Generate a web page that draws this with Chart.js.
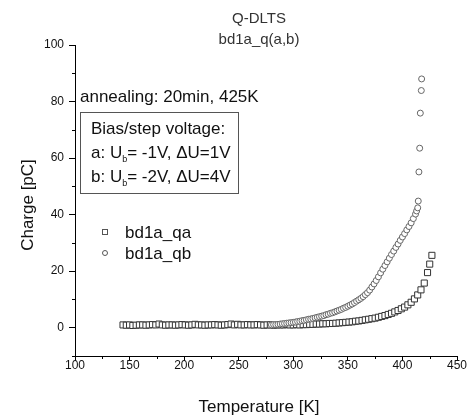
<!DOCTYPE html>
<html lang="en">
<head>
<meta charset="UTF-8">
<title>Q-DLTS bd1a_q(a,b)</title>
<script src="https://cdn.jsdelivr.net/npm/chart.js"></script>
<style>
  body { margin: 0; background: #fff; font-family: "Liberation Sans", Arial, sans-serif; }
  #wrap { position: relative; width: 470px; height: 419px; overflow: hidden; }
  #chart { position: absolute; left: 0; top: 0; }
  .lbl { position: absolute; white-space: nowrap; line-height: 1; color: #111; }
  .ctr { transform: translate(-50%, -50%); }
  .vmid { transform: translateY(-50%); }
  .box { position: absolute; left: 80px; top: 112px; width: 157px; height: 80px; border: 1px solid #555; }
  sub { font-size: 9px; vertical-align: -4px; line-height: 0; }
  .mk { position: absolute; width: 4px; height: 4px; border: 1px solid #555; background: #fff; transform: translate(-50%, -50%); }
</style>
</head>
<body>
<div id="wrap">
    <canvas id="chart" width="470" height="419"></canvas>

    <!-- titles -->
    <div class="lbl ctr" style="left:259px; top:17px; font-size:15px; color:#333;">Q-DLTS</div>
    <div class="lbl ctr" style="left:259px; top:38px; font-size:15px; color:#333;">bd1a_q(a,b)</div>

    <!-- annotations -->
    <div class="lbl vmid" style="left:80px; top:96px; font-size:17px;">annealing: 20min, 425K</div>
    <div class="box"></div>
    <div class="lbl vmid" style="left:91px; top:128px; font-size:17px;">Bias/step voltage:</div>
    <div class="lbl vmid" style="left:91px; top:152px; font-size:17px;">a: U<sub>b</sub>= -1V, ΔU=1V</div>
    <div class="lbl vmid" style="left:91px; top:176px; font-size:17px;">b: U<sub>b</sub>= -2V, ΔU=4V</div>

    <!-- legend -->
    <div class="mk" style="left:105px; top:232px;"></div>
    <div class="lbl vmid" style="left:125px; top:232px; font-size:17px;">bd1a_qa</div>
    <div class="mk" style="left:105px; top:253px; border-radius:50%;"></div>
    <div class="lbl vmid" style="left:125px; top:253px; font-size:17px;">bd1a_qb</div>

    <!-- axis titles -->
    <div class="lbl" style="left:27px; top:205px; font-size:17px; transform: translate(-50%, -50%) rotate(-90deg);">Charge [pC]</div>
    <div class="lbl ctr" style="left:259px; top:406px; font-size:17px;">Temperature [K]</div>
</div>

<script>
// bd1a_qa (squares)
const tempA = [144,147,150,153,156,159,162,165,168,171,174,177,180,183,186,189,192,195,198,201,
    204,207,210,213,216,219,222,225,228,231,234,237,240,243,246,249,252,255,258,261,
    264,267,270,273,276,279,282,285,288,291,294,297,300,303,306,309,312,315,318,321,
    324,327,330,333,336,339,342,345,348,351,354,357,360,363,366,369,372,375,378,381,
    384,387,390,393,396,399,402,405,408,411,414,417,420,423,425,427];
const chargeA = [1.0,0.9,1.0,0.8,0.9,1.0,1.0,0.9,1.0,1.1,1.0,1.3,1.0,0.9,1.0,1.0,0.9,1.0,1.1,1.0,
    0.9,1.0,1.2,1.0,1.0,0.9,1.0,1.0,1.1,1.0,0.9,1.0,1.1,1.3,1.0,1.2,1.0,1.0,1.1,1.0,
    1.0,1.1,1.0,0.9,1.0,1.0,0.9,1.0,1.0,1.0,1.1,1.0,1.0,1.1,1.0,1.1,1.1,1.2,1.2,1.3,
    1.3,1.4,1.4,1.5,1.5,1.6,1.7,1.8,1.9,2.0,2.1,2.3,2.4,2.6,2.8,3.0,3.2,3.4,3.7,4.0,
    4.3,4.7,5.1,5.6,6.1,6.7,7.3,8.1,9.0,10.2,11.6,13.4,15.8,19.5,22.5,25.6];

// bd1a_qb (circles)
const tempB = [280,282,284,286,288,290,292,294,296,298,300,302,304,306,308,310,312,314,316,318,
    320,322,324,326,328,330,332,334,336,338,340,342,344,346,348,350,352,354,356,358,
    360,362,364,366,368,370,372,374,376,378,380,382,384,386,388,390,392,394,396,398,
    400,402,404,406,408,410,412,413,414,
    414.5,415.1,415.8,416.4,417.3,417.6];
const chargeB = [1.0,1.1,1.1,1.2,1.3,1.4,1.5,1.6,1.7,1.8,1.9,2.0,2.2,2.3,2.5,2.6,2.8,3.0,3.1,3.3,
    3.5,3.7,3.9,4.1,4.3,4.6,4.8,5.1,5.3,5.6,5.9,6.2,6.5,6.9,7.2,7.6,8.0,8.4,8.9,9.4,
    9.9,10.4,11.0,11.7,12.4,13.3,14.4,15.5,16.7,18.0,19.4,20.7,22.0,23.3,24.6,25.9,27.1,28.4,29.6,30.9,
    32.1,33.3,34.6,35.8,37.1,38.6,40.2,41.3,42.4,
    44.8,55.1,63.5,75.9,83.9,88.0];

// axis ticks
const xTicks = [100,150,200,250,300,350,400,450];
const xMinor = [125,175,225,275,325,375,425];
const yTicks = [0,20,40,60,80,100];
const yMinor = [-10,10,30,50,70,90];

const FONT = "'Liberation Sans', Arial, sans-serif";

const minorTicks = {
    id: 'minorTicks',
    afterDraw(chart) {
        const { ctx, chartArea, scales: { x, y } } = chart;
        ctx.save();
        ctx.strokeStyle = '#000';
        ctx.lineWidth = 1;
        ctx.beginPath();
        xMinor.forEach(v => {
            const px = Math.round(x.getPixelForValue(v)) + 0.5;
            ctx.moveTo(px, chartArea.bottom);
            ctx.lineTo(px, chartArea.bottom + 3);
        });
        yMinor.forEach(v => {
            const py = Math.round(y.getPixelForValue(v)) + 0.5;
            ctx.moveTo(chartArea.left, py);
            ctx.lineTo(chartArea.left - 3, py);
        });
        ctx.stroke();
        ctx.restore();
    }
};

const toPoints = (xs, ys) => xs.map((t, i) => ({ x: t, y: ys[i] }));

new Chart(document.getElementById('chart'), {
    type: 'scatter',
    data: {
        datasets: [{
            label: 'bd1a_qa',
            data: toPoints(tempA, chargeA),
            pointStyle: 'rect',
            pointRadius: 4.3,
            borderColor: '#333',
            backgroundColor: '#fff',
            borderWidth: 1,
            order: 2
        }, {
            label: 'bd1a_qb',
            data: toPoints(tempB, chargeB),
            pointStyle: 'circle',
            pointRadius: 3,
            borderColor: '#666',
            backgroundColor: '#fff',
            borderWidth: 1,
            order: 1
        }]
    },
    options: {
        responsive: false,
        animation: false,
        layout: { padding: { top: 45, right: 13, left: 0, bottom: 0 } },
        plugins: { legend: { display: false }, tooltip: { enabled: false } },
        scales: {
            x: {
                type: 'linear',
                min: 100, max: 450,
                afterBuildTicks: s => { s.ticks = xTicks.map(v => ({ value: v })); },
                afterFit: s => { s.height = 63; },
                ticks: { font: { size: 12, family: FONT }, color: '#111', padding: -3, maxRotation: 0, autoSkip: false },
                grid: { drawOnChartArea: false, tickLength: 5, color: '#000' },
                border: { color: '#000', width: 1 }
            },
            y: {
                type: 'linear',
                min: -10, max: 100,
                afterBuildTicks: s => { s.ticks = yTicks.map(v => ({ value: v })); },
                afterFit: s => { s.width = 75; },
                ticks: { font: { size: 12, family: FONT }, color: '#111', padding: 5, autoSkip: false },
                grid: { drawOnChartArea: false, tickLength: 6, color: '#000' },
                border: { color: '#000', width: 1 }
            }
        }
    },
    plugins: [minorTicks]
});
</script>
</body>
</html>
